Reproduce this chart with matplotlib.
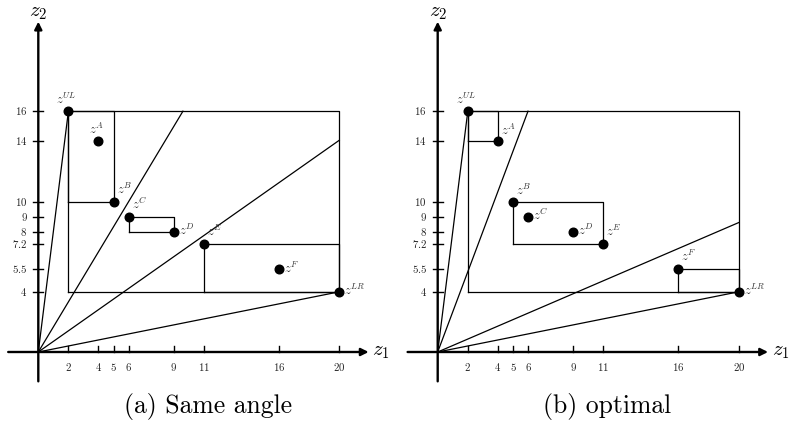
import matplotlib
matplotlib.use("Agg")
import matplotlib.pyplot as plt

plt.rcParams['mathtext.fontset'] = 'cm'

# data
xticks = [2, 4, 5, 6, 9, 11, 16, 20]
yticks = [4, 5.5, 7.2, 8, 9, 10, 14, 16]
ytick_labels = ['4', '5.5', '7.2', '8', '9', '10', '14', '16']

names = ['UL', 'A', 'B', 'C', 'D', 'E', 'F', 'LR']
z1 = [2, 4, 5, 6, 9, 11, 16, 20]
z2 = [16, 14, 10, 9, 8, 7.2, 5.5, 4]

# rays from the origin (end points)
rays_a = [(2, 16), (9.61, 16), (20, 14.07), (20, 4)]
rays_b = [(2, 16), (6, 16), (20, 8.6), (20, 4)]

# boxes (z1 min, z2 min, z1 max, z2 max)
boxes_a = [(2, 4, 20, 16), (2, 10, 5, 16), (6, 8, 9, 9), (11, 4, 20, 7.2)]
boxes_b = [(2, 4, 20, 16), (2, 14, 4, 16), (5, 7.2, 11, 10), (16, 4, 20, 5.5)]

# label placement: (dx px, dy px, ha, va)
lab_a = {'UL': (-2, 4, 'center', 'bottom'), 'A': (-2, 4, 'center', 'bottom'),
         'B': (3, 5, 'left', 'bottom'), 'C': (3, 5, 'left', 'bottom'),
         'D': (5, 1, 'left', 'center'), 'E': (3, 5, 'left', 'bottom'),
         'F': (5, 1, 'left', 'center'), 'LR': (5, 1, 'left', 'center')}
lab_b = {'UL': (-2, 4, 'center', 'bottom'), 'A': (3, 3, 'left', 'bottom'),
         'B': (3, 4, 'left', 'bottom'), 'C': (5, 1, 'left', 'center'),
         'D': (5, 1, 'left', 'center'), 'E': (3, 5, 'left', 'bottom'),
         'F': (3, 5, 'left', 'bottom'), 'LR': (5, 1, 'left', 'center')}

W, H = 789, 429
fig = plt.figure(figsize=(W / 100, H / 100), dpi=100)

S = 15.05
XMIN, XMAX, YMIN, YMAX = -2.6, 24.0, -3.2, 23.6


def panel(ox, oy, rays, boxes, labs, title, tx):
    left = (ox + XMIN * S) / W
    bottom = 1 - (oy - YMIN * S) / H
    ax = fig.add_axes([left, bottom, (XMAX - XMIN) * S / W, (YMAX - YMIN) * S / H])
    ax.set_xlim(XMIN, XMAX)
    ax.set_ylim(YMIN, YMAX)
    ax.axis('off')

    lw = 0.9
    for (x, y) in rays:
        ax.plot([0, x], [0, y], color='black', lw=lw)
    for (x0, y0, x1, y1) in boxes:
        ax.plot([x0, x1, x1, x0, x0], [y0, y0, y1, y1, y0], color='black', lw=lw)

    # axes with arrows
    ax.annotate('', xy=(21.95, 0), xytext=(-2.0, 0),
                arrowprops=dict(arrowstyle='-|>', lw=1.7, color='black',
                                mutation_scale=11, shrinkA=0, shrinkB=0))
    ax.annotate('', xy=(0, 21.95), xytext=(0, -1.95),
                arrowprops=dict(arrowstyle='-|>', lw=1.7, color='black',
                                mutation_scale=11, shrinkA=0, shrinkB=0))
    ax.text(22.2, 0.05, '$z_1$', fontsize=15, ha='left', va='center')
    ax.text(0.0, 22.6, '$z_2$', fontsize=15, ha='center', va='center')

    for t in xticks:
        ax.plot([t, t], [0, 0.42], color='black', lw=1.0)
        ax.text(t, -1.0, '$%d$' % t, fontsize=7.8, ha='center', va='center', color='#222222')
    for t, lab in zip(yticks, ytick_labels):
        ax.plot([-0.33, 0.33], [t, t], color='black', lw=1.0)
        ax.text(-0.72, t, '$%s$' % lab, fontsize=7.8, ha='right', va='center', color='#222222')

    ax.plot(z1, z2, 'o', color='black', markersize=6.2, zorder=5)
    for n, x, y in zip(names, z1, z2):
        dx, dy, ha, va = labs[n]
        ax.annotate('$z^{%s}$' % n, (x, y), xytext=(dx * 0.72, dy * 0.72),
                    textcoords='offset points', ha=ha, va=va, fontsize=9,
                    color='#333333')

    fig.text(tx / W, 1 - 407 / H, title, fontfamily='cmr10', fontsize=18.5,
             ha='center', va='center')


panel(38.3, 352.0, rays_a, boxes_a, lab_a, '(a) Same angle', 208)
panel(437.7, 352.0, rays_b, boxes_b, lab_b, '(b) optimal', 607)

fig.savefig('out.png', dpi=100)
